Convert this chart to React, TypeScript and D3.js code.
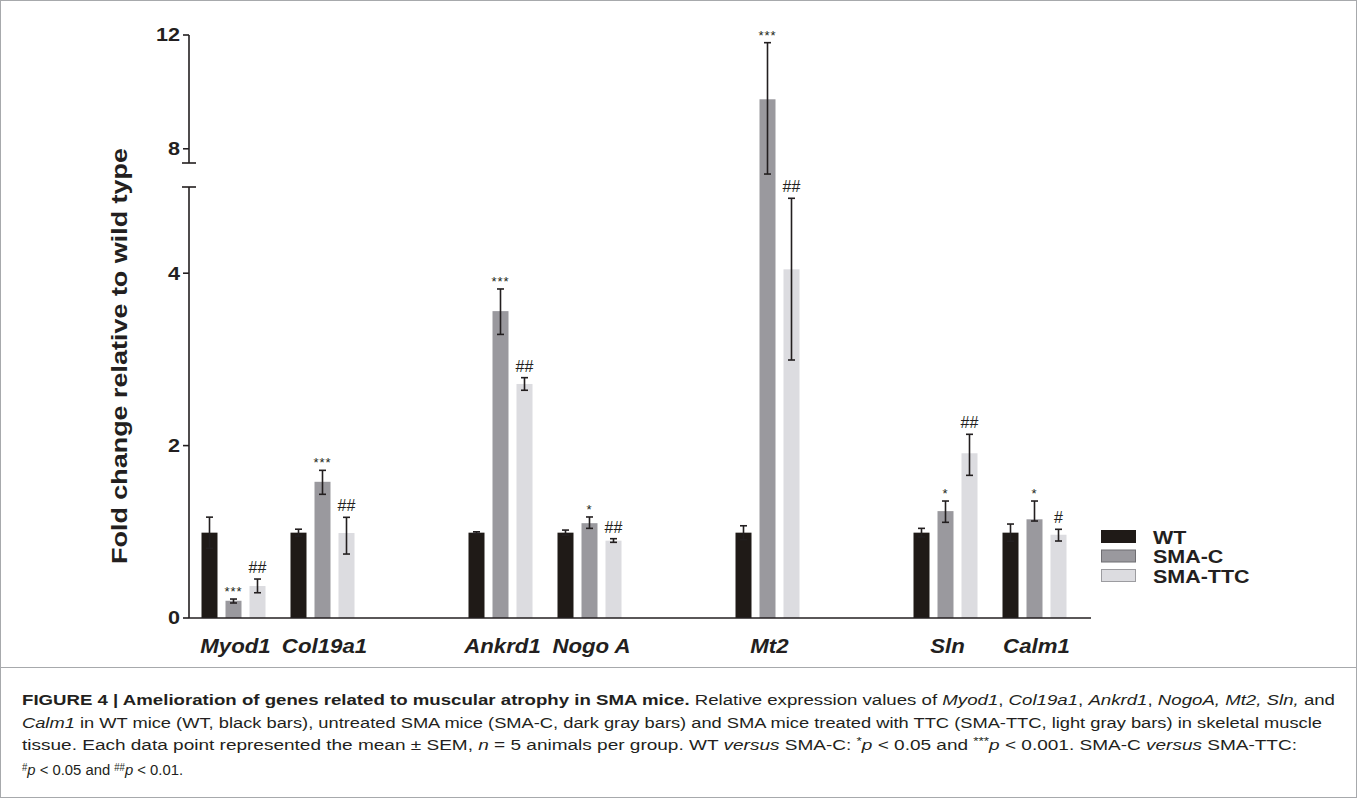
import * as d3 from 'd3';

// Genes in plot order; "gap" slots keep the empty columns between gene groups
const slots = ['Myod1', 'Col19a1', 'gap1', 'Ankrd1', 'Nogo A', 'gap2', 'Mt2', 'gap3', 'Sln', 'Calm1'];
const genes = ['Myod1', 'Col19a1', 'Ankrd1', 'Nogo A', 'Mt2', 'Sln', 'Calm1'];
const groups = ['WT', 'SMA-C', 'SMA-TTC'];
const groupColors = ['#1f1a17', '#9a999e', '#dcdce0'];
const legendStroke = ['#1f1a17', '#6f6e72', '#9c9ca0'];

// mean fold change, error bar low / high ends
const wtMean = [0.99, 0.99, 0.99, 0.99, 0.99, 0.99, 0.99];
const wtLow = [0.81, 0.95, 0.98, 0.96, 0.91, 0.94, 0.89];
const wtHigh = [1.17, 1.03, 1.0, 1.02, 1.07, 1.04, 1.09];

const smacMean = [0.2, 1.58, 3.56, 1.1, 9.74, 1.24, 1.145];
const smacLow = [0.174, 1.435, 3.29, 1.04, 6.35, 1.11, 1.125];
const smacHigh = [0.22, 1.713, 3.817, 1.172, 11.73, 1.357, 1.357];

const ttcMean = [0.371, 0.986, 2.715, 0.897, 4.045, 1.911, 0.966];
const ttcLow = [0.293, 0.742, 2.642, 0.878, 2.993, 1.655, 0.893];
const ttcHigh = [0.452, 1.168, 2.788, 0.92, 4.869, 2.131, 1.029];

// significance marks (WT vs SMA-C, SMA-C vs SMA-TTC)
const smacSig = ['***', '***', '***', '*', '***', '*', '*'];
const ttcSig = ['##', '##', '##', '##', '##', '##', '#'];

// broken y axis: lower part 0-5, upper part 7.5-12
const lowerTicks = [0, 2, 4];
const upperTicks = [8, 12];
const breakDomain = [0, 5, 7.5, 12];

const W = 1357;
const H = 798;
const FONT = '"Liberation Sans", Arial, Helvetica, sans-serif';
const CAPTION_FONT = '"Liberation Sans Narrow", "Liberation Sans", Arial, sans-serif';

export default function App() {
  const axisX = 189;
  const x = d3.scaleBand().domain(slots).range([axisX, 1079]).padding(0);
  const inner = d3.scaleBand().domain(groups).range([-32, 32]).paddingInner(1 / 3);
  const y = d3.scaleLinear().domain(breakDomain).range([618, 187, 163, 35]);

  const series = [
    { mean: wtMean, low: wtLow, high: wtHigh, sig: null },
    { mean: smacMean, low: smacLow, high: smacHigh, sig: smacSig },
    { mean: ttcMean, low: ttcLow, high: ttcHigh, sig: ttcSig }
  ];

  const center = (g: string) => (x(g) ?? 0) + x.bandwidth() / 2;
  const capW = 7;

  return (
    <svg width={W} height={H} style={{ position: 'absolute', left: 0, top: 0, background: '#fff' }}>
      {/* frame and caption separator */}
      <rect x={0.5} y={0.5} width={W - 1} height={H - 1} fill="none" stroke="#a7a9ac" strokeWidth={1} />
      <line x1={0} x2={W} y1={667.5} y2={667.5} stroke="#a7a9ac" strokeWidth={1} />

      {/* bars */}
      {series.map((s, si) =>
        genes.map((g, gi) => {
          const bx = center(g) + (inner(groups[si]) ?? 0);
          return (
            <rect
              key={`b-${si}-${gi}`}
              x={bx}
              y={y(s.mean[gi])}
              width={inner.bandwidth()}
              height={y(0) - y(s.mean[gi])}
              fill={groupColors[si]}
            />
          );
        })
      )}

      {/* error bars */}
      {series.map((s, si) =>
        genes.map((g, gi) => {
          const cx = center(g) + (inner(groups[si]) ?? 0) + inner.bandwidth() / 2;
          const y1 = y(s.high[gi]);
          const y2 = y(s.low[gi]);
          return (
            <g key={`e-${si}-${gi}`} stroke="#231f20" strokeWidth={1.6}>
              <line x1={cx} x2={cx} y1={y1} y2={y2} />
              <line x1={cx - capW / 2} x2={cx + capW / 2} y1={y1} y2={y1} />
              <line x1={cx - capW / 2} x2={cx + capW / 2} y1={y2} y2={y2} />
            </g>
          );
        })
      )}

      {/* significance marks */}
      {series.map((s, si) =>
        s.sig
          ? genes.map((g, gi) => {
              const cx = center(g) + (inner(groups[si]) ?? 0) + inner.bandwidth() / 2;
              const star = s.sig![gi].startsWith('*');
              return (
                <text
                  key={`s-${si}-${gi}`}
                  x={cx}
                  y={y(s.high[gi]) - (star ? 3 : 6)}
                  textAnchor="middle"
                  fontFamily={FONT}
                  fontSize={star ? 13 : 16}
                  letterSpacing={star ? 1 : 0}
                  fill="#231f20"
                >
                  {s.sig![gi]}
                </text>
              );
            })
          : null
      )}

      {/* y axis, two segments with break caps */}
      <g stroke="#231f20" strokeWidth={1.6}>
        <line x1={axisX} x2={axisX} y1={y(0)} y2={y(5)} />
        <line x1={axisX - 7} x2={axisX + 7} y1={y(5)} y2={y(5)} />
        <line x1={axisX} x2={axisX} y1={y(7.5)} y2={y(12)} />
        <line x1={axisX - 7} x2={axisX + 7} y1={y(7.5)} y2={y(7.5)} />
        {[...lowerTicks, ...upperTicks].map(t => (
          <line key={`t-${t}`} x1={axisX - 6} x2={axisX} y1={y(t)} y2={y(t)} />
        ))}
        {/* x axis */}
        <line x1={axisX} x2={1091} y1={y(0)} y2={y(0)} />
      </g>
      {[...lowerTicks, ...upperTicks].map(t => (
        <g key={`tl-${t}`} transform={`translate(${axisX - 9},${y(t)}) scale(1.2,1)`}>
          <text
            dy="0.36em"
            textAnchor="end"
            fontFamily={FONT}
            fontWeight="bold"
            fontSize={18}
            fill="#231f20"
          >
            {t}
          </text>
        </g>
      ))}

      {/* y axis title */}
      <text
        transform="translate(127,356) rotate(-90)"
        textAnchor="middle"
        fontFamily={FONT}
        fontWeight="bold"
        fontSize={22}
        textLength={416}
        lengthAdjust="spacingAndGlyphs"
        fill="#231f20"
      >
        Fold change relative to wild type
      </text>

      {/* gene labels */}
      {genes.map(g => (
        <g key={`gl-${g}`} transform={`translate(${center(g) + 2},653) scale(1.06,1)`}>
          <text
            textAnchor="middle"
            fontFamily={FONT}
            fontWeight="bold"
            fontStyle="italic"
            fontSize={21}
            fill="#231f20"
          >
            {g}
          </text>
        </g>
      ))}

      {/* legend */}
      {groups.map((g, i) => (
        <g key={`lg-${g}`} transform={`translate(1101,${530 + i * 19.5})`}>
          <rect x={0.5} y={0.5} width={34} height={12} fill={groupColors[i]} stroke={legendStroke[i]} strokeWidth={1} />
          <g transform="translate(52,13.5) scale(1.13,1)">
            <text fontFamily={FONT} fontWeight="bold" fontSize={19} fill="#231f20">
              {g}
            </text>
          </g>
        </g>
      ))}

      {/* caption */}
      <g fontFamily={CAPTION_FONT} fontSize={15.5} fill="#231f20">
        <text x={22} y={705} textLength={1313} lengthAdjust="spacingAndGlyphs">
          <tspan fontWeight="bold">FIGURE 4 | Amelioration of genes related to muscular atrophy in SMA mice.</tspan>
          <tspan> Relative expression values of </tspan>
          <tspan fontStyle="italic">Myod1</tspan>
          <tspan>, </tspan>
          <tspan fontStyle="italic">Col19a1</tspan>
          <tspan>, </tspan>
          <tspan fontStyle="italic">Ankrd1</tspan>
          <tspan>, </tspan>
          <tspan fontStyle="italic">NogoA, Mt2, Sln,</tspan>
          <tspan> and</tspan>
        </text>
        <text x={22} y={728} textLength={1300} lengthAdjust="spacingAndGlyphs">
          <tspan fontStyle="italic">Calm1</tspan>
          <tspan> in WT mice (WT, black bars), untreated SMA mice (SMA-C, dark gray bars) and SMA mice treated with TTC (SMA-TTC, light gray bars) in skeletal muscle</tspan>
        </text>
        <text x={22} y={750} textLength={1275} lengthAdjust="spacingAndGlyphs">
          <tspan>tissue. Each data point represented the mean ± SEM, </tspan>
          <tspan fontStyle="italic">n</tspan>
          <tspan> = 5 animals per group. WT </tspan>
          <tspan fontStyle="italic">versus</tspan>
          <tspan> SMA-C: </tspan>
          <tspan fontSize={11} dy={-5}>*</tspan>
          <tspan fontStyle="italic" dy={5}>p</tspan>
          <tspan> {'<'} 0.05 and </tspan>
          <tspan fontSize={11} dy={-5}>***</tspan>
          <tspan fontStyle="italic" dy={5}>p</tspan>
          <tspan> {'<'} 0.001. SMA-C </tspan>
          <tspan fontStyle="italic">versus</tspan>
          <tspan> SMA-TTC:</tspan>
        </text>
        <text x={22} y={775} textLength={161} lengthAdjust="spacingAndGlyphs">
          <tspan fontSize={10} dy={-4}>#</tspan>
          <tspan fontStyle="italic" dy={4}>p</tspan>
          <tspan> {'<'} 0.05 and </tspan>
          <tspan fontSize={10} dy={-4}>##</tspan>
          <tspan fontStyle="italic" dy={4}>p</tspan>
          <tspan> {'<'} 0.01.</tspan>
        </text>
      </g>
    </svg>
  );
}
